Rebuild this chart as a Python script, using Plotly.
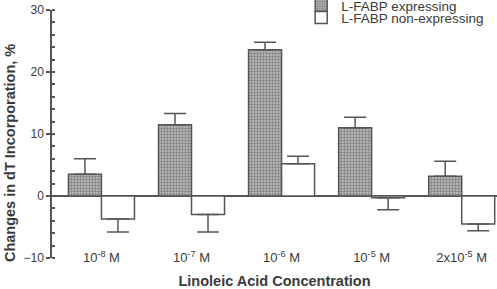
import plotly.graph_objects as go

categories = ["10<sup>-8</sup> M", "10<sup>-7</sup> M", "10<sup>-6</sup> M", "10<sup>-5</sup> M", "2x10<sup>-5</sup> M"]
expressing = [3.5, 11.5, 23.6, 11.0, 3.2]
expressing_err = [2.5, 1.8, 1.2, 1.7, 2.4]
non_expressing = [-3.7, -3.0, 5.2, -0.3, -4.5]
non_expressing_err = [2.1, 2.8, 1.2, 1.9, 1.1]

LINE = "#555555"
TEXT = "#3a3a3a"
FONT = "Liberation Sans, Arial, sans-serif"

def up_err(vals, errs):
    return [e if v >= 0 else 0 for v, e in zip(vals, errs)]

def down_err(vals, errs):
    return [e if v < 0 else 0 for v, e in zip(vals, errs)]

fig = go.Figure()
fig.add_trace(go.Bar(
    x=categories, y=expressing, name="L-FABP expressing", showlegend=True,
    marker=dict(color="#b8b8b8", line=dict(color=LINE, width=1.5),
                pattern=dict(shape=".", size=3, solidity=0.5, fgcolor="#404040", bgcolor="#c0c0c0")),
    error_y=dict(type="data", symmetric=False, array=up_err(expressing, expressing_err),
                 arrayminus=down_err(expressing, expressing_err), color=LINE, thickness=1.5, width=11),
    legend="legend",
))
fig.add_trace(go.Bar(
    x=categories, y=non_expressing, name="L-FABP non-expressing", showlegend=True,
    marker=dict(color="white", line=dict(color=LINE, width=1.5)),
    error_y=dict(type="data", symmetric=False, array=up_err(non_expressing, non_expressing_err),
                 arrayminus=down_err(non_expressing, non_expressing_err), color=LINE, thickness=1.5, width=11),
    legend="legend2",
))

fig.update_layout(
    width=497, height=289, showlegend=True,
    margin=dict(l=52, r=0, t=10, b=31, autoexpand=False),
    paper_bgcolor="white", plot_bgcolor="white",
    barmode="group", bargap=0.267, bargroupgap=0,
    font=dict(family=FONT, color=TEXT, size=12),
    legend=dict(visible=True, xref="container", yref="container", x=0.606, y=0.981, xanchor="left", yanchor="middle",
                bgcolor="rgba(0,0,0,0)", font=dict(size=13.5, color=TEXT)),
    legend2=dict(visible=True, xref="container", yref="container", x=0.606, y=0.939, xanchor="left", yanchor="middle",
                 bgcolor="rgba(0,0,0,0)", font=dict(size=13.5, color=TEXT)),
    xaxis=dict(
        range=[-0.549, 4.392], showline=False, ticks="", showgrid=False,
        anchor="free", position=0.04, automargin=False,
        tickfont=dict(size=13, color=TEXT),
        title=dict(text="<b>Linoleic Acid Concentration</b>", font=dict(size=14.5, color=TEXT), standoff=12),
    ),
    yaxis=dict(
        range=[-10, 30], tickmode="linear", tick0=0, dtick=10,
        showline=True, linecolor=LINE, linewidth=1.5,
        ticks="outside", ticklen=4, tickwidth=1.5, tickcolor=LINE,
        minor=dict(dtick=2, ticks="inside", ticklen=3, tickwidth=1.5, tickcolor=LINE, showgrid=False),
        showgrid=False, zeroline=True, zerolinecolor=LINE, zerolinewidth=1.5,
        automargin=False,
        tickfont=dict(size=12, color=TEXT),
    ),
    annotations=[dict(
        text="<b>Changes in dT Incorporation, %</b>", textangle=-90,
        xref="paper", yref="paper", x=-0.0944, y=0.423, xanchor="center", yanchor="middle",
        showarrow=False, font=dict(size=14.5, color=TEXT),
    )],
)

fig.write_html("out.html", config={"displayModeBar": False},
               post_script="document.body.style.margin='0';")
